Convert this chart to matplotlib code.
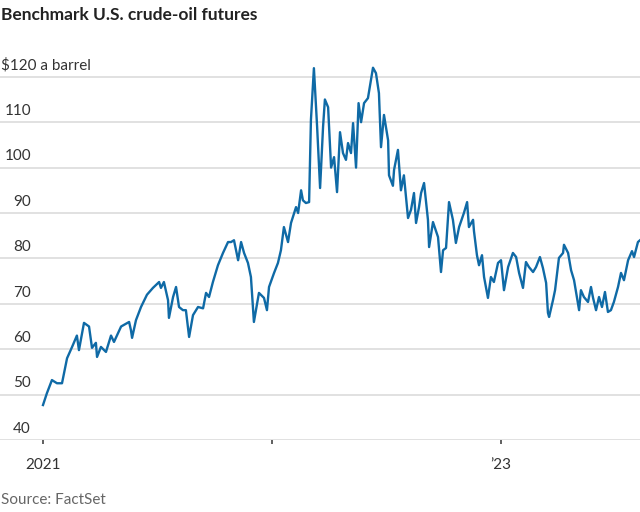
"""Benchmark U.S. crude-oil futures, WSJ style line chart."""

import matplotlib
matplotlib.use("Agg")
import matplotlib.pyplot as plt

plt.rcParams["font.family"] = ["Lato", "DejaVu Sans"]

# time as years since 1 Jan 2021, price in $ a barrel
years_since_2021 = [
    0.000, 0.017, 0.039, 0.061, 0.083, 0.105, 0.127, 0.148, 0.157, 0.179,
    0.201, 0.214, 0.231, 0.236, 0.253, 0.275, 0.297, 0.310, 0.341, 0.376,
    0.384, 0.389, 0.406, 0.428, 0.454, 0.480, 0.507, 0.515, 0.528, 0.546,
    0.550, 0.568, 0.581, 0.594, 0.611, 0.624, 0.638, 0.655, 0.677, 0.699,
    0.712, 0.725, 0.742, 0.764, 0.786, 0.808, 0.821, 0.834, 0.852, 0.865,
    0.878, 0.895, 0.908, 0.921, 0.943, 0.965, 0.978, 0.987, 1.009, 1.026,
    1.039, 1.052, 1.070, 1.083, 1.105, 1.114, 1.127, 1.135, 1.148, 1.162,
    1.170, 1.183, 1.197, 1.210, 1.223, 1.231, 1.245, 1.258, 1.271, 1.284,
    1.297, 1.310, 1.323, 1.332, 1.345, 1.354, 1.367, 1.378, 1.389, 1.402,
    1.419, 1.441, 1.454, 1.467, 1.476, 1.489, 1.507, 1.511, 1.528, 1.533,
    1.550, 1.563, 1.576, 1.594, 1.607, 1.620, 1.629, 1.642, 1.651, 1.664,
    1.681, 1.686, 1.703, 1.725, 1.738, 1.747, 1.760, 1.773, 1.790, 1.803,
    1.817, 1.838, 1.852, 1.860, 1.878, 1.882, 1.895, 1.904, 1.917, 1.926,
    1.943, 1.956, 1.969, 1.987, 2.000, 2.013, 2.031, 2.052, 2.066, 2.079,
    2.096, 2.109, 2.122, 2.140, 2.153, 2.170, 2.183, 2.197, 2.205, 2.210,
    2.227, 2.236, 2.253, 2.271, 2.275, 2.293, 2.306, 2.319, 2.341, 2.349,
    2.362, 2.380, 2.393, 2.402, 2.415, 2.428, 2.441, 2.454, 2.467, 2.480,
    2.493, 2.511, 2.524, 2.537, 2.555, 2.572, 2.581, 2.598, 2.607,
]
prices = [
    47.7, 50.3, 53.2, 52.5, 52.5, 58.0, 60.5, 63.0, 59.8, 65.8,
    65.0, 60.3, 61.4, 58.3, 60.5, 59.4, 63.0, 61.6, 65.0, 66.0,
    64.2, 62.5, 66.4, 69.3, 72.0, 73.5, 74.8, 73.5, 74.8, 70.8,
    66.9, 71.5, 73.7, 69.3, 68.6, 68.6, 62.7, 67.5, 69.3, 69.0,
    72.4, 71.5, 74.8, 78.5, 81.2, 83.6, 83.6, 84.0, 79.6, 83.6,
    81.2, 79.0, 75.9, 66.0, 72.4, 71.3, 68.6, 73.7, 76.8, 79.0,
    81.8, 86.9, 83.6, 87.8, 91.3, 90.0, 95.0, 92.8, 92.2, 92.4,
    110.5, 121.9, 109.0, 95.5, 109.0, 115.0, 113.3, 100.0, 102.3, 94.6,
    107.8, 103.2, 101.7, 105.4, 103.2, 109.8, 100.0, 114.2, 110.0, 114.2,
    115.3, 122.0, 120.8, 116.4, 104.5, 111.6, 106.0, 98.3, 96.0, 99.5,
    103.9, 95.0, 98.3, 88.9, 90.7, 94.4, 87.8, 91.3, 94.4, 96.6,
    88.5, 82.5, 88.0, 84.7, 77.0, 81.8, 82.3, 92.4, 88.5, 83.4,
    86.9, 90.0, 92.4, 86.9, 88.5, 86.0, 80.7, 78.5, 80.7, 75.9,
    71.3, 75.9, 74.8, 79.0, 79.6, 73.0, 78.1, 81.2, 80.3, 76.8,
    73.5, 79.2, 78.1, 77.0, 78.1, 80.3, 77.9, 74.6, 68.0, 67.1,
    70.8, 73.0, 80.1, 81.2, 83.0, 81.2, 77.4, 75.2, 68.6, 73.0,
    71.5, 70.4, 73.7, 71.3, 68.6, 71.5, 69.3, 72.6, 68.2, 68.6,
    70.4, 73.7, 76.8, 75.2, 79.6, 81.6, 80.3, 83.6, 84.0,
]

y_ticks = [40, 50, 60, 70, 80, 90, 100, 110]
x_ticks = [2021, 2022, 2023]
x_labels = ["2021", "", "\u201923"]

years = [2021 + t for t in years_since_2021]

fig = plt.figure(figsize=(6.4, 5.12), dpi=100)
ax = fig.add_axes([0, 72 / 512, 1, 380 / 512])
ax.set_xlim(2021 - 43 / 229, 2021 + 597 / 229)
ax.set_ylim(40, 40 + 380 / 4.54)

grid_color = "#dcdcdc"
for v in y_ticks + [120]:
    ax.axhline(v, color=grid_color, lw=1.2, zorder=1)

ax.plot(years, prices, color="#0f6aa6", lw=1.7, zorder=3, solid_joinstyle="round")

for s in ax.spines.values():
    s.set_visible(False)
ax.set_yticks([])
ax.set_xticks(x_ticks)
ax.set_xticklabels(x_labels, fontsize=11, color="#333333")
ax.tick_params(axis="x", length=3, width=1.2, color="#444444", pad=10)

# y labels sit above the gridlines, right-aligned near the left edge
trans = ax.get_yaxis_transform()
for v in y_ticks:
    ax.annotate(str(v), xy=(31 / 640, v), xycoords=trans, xytext=(0, 3),
                textcoords="offset points", ha="right", va="bottom",
                fontsize=11, color="#333333")
ax.annotate("$120 a barrel", xy=(1 / 640, 120), xycoords=trans, xytext=(0, 3),
            textcoords="offset points", ha="left", va="bottom",
            fontsize=11, color="#333333")

fig.text(0.002, 1 - 15 / 512, "Benchmark U.S. crude-oil futures", ha="left",
         va="center", fontsize=12.5, fontweight="bold", color="#222222")
fig.text(0.002, 1 - 500 / 512, "Source: FactSet", ha="left", va="center",
         fontsize=11, color="#666666")

fig.savefig("out.png", dpi=100)
